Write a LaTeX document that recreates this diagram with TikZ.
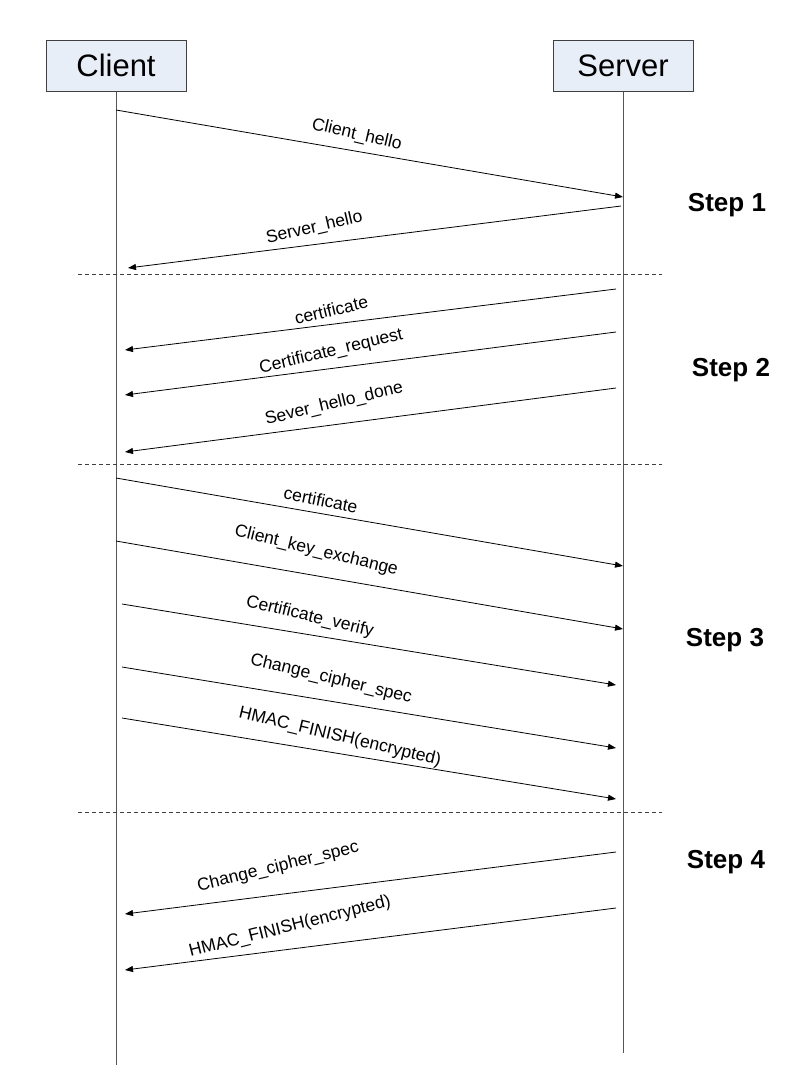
\documentclass[tikz,border=0pt]{standalone}
\usepackage{fontspec}
\setmainfont{Liberation Sans}
\usetikzlibrary{arrows.meta}
\definecolor{boxfill}{HTML}{E8EEF8}
\definecolor{boxline}{HTML}{404040}
\definecolor{lifeline}{HTML}{555555}
\tikzset{
  actor/.style={draw=boxline, line width=1pt, fill=boxfill, minimum width=140pt, minimum height=51pt,
    inner sep=0pt, font=\fontsize{31}{36}\selectfont},
  life/.style={draw=lifeline, line width=0.9pt},
  msg/.style={draw=black, line width=0.8pt, -{Triangle[length=8pt,width=6pt]}},
  lbl/.style={font=\fontsize{17.5}{20}\selectfont, inner sep=0pt},
  sep/.style={draw=black!75, line width=0.8pt, dash pattern=on 4pt off 3pt},
  steplbl/.style={font=\fontsize{26}{30}\selectfont\bfseries, inner sep=0pt}
}
\begin{document}
\begin{tikzpicture}[x=1pt,y=-1pt]
\useasboundingbox (0,0) rectangle (808,1084);
% actors
\node[actor] (client) at (116,65.5) {Client};
\node[actor] (server) at (623,65.5) {Server};
\coordinate (cb) at (116,1065);
\coordinate (sb) at (623,1053);
\draw[life] (client.south) -- (cb);
\draw[life] (server.south) -- (sb);
% separators
\coordinate (d1l) at (78,274); \coordinate (d1r) at (662,274);
\coordinate (d2l) at (78,464); \coordinate (d2r) at (662,464);
\coordinate (d3l) at (78,812); \coordinate (d3r) at (662,812);
\draw[sep] (d1l) -- (d1r);
\draw[sep] (d2l) -- (d2r);
\draw[sep] (d3l) -- (d3r);
% message end points
\coordinate (a1) at (116,110); \coordinate (b1) at (623,197);
\coordinate (a2) at (621,206); \coordinate (b2) at (128,268);
\coordinate (a3) at (616,289); \coordinate (b3) at (125,350);
\coordinate (a4) at (616,332); \coordinate (b4) at (125,395);
\coordinate (a5) at (616,388); \coordinate (b5) at (125,452);
\coordinate (a6) at (116,478); \coordinate (b6) at (623,566);
\coordinate (a7) at (116,541); \coordinate (b7) at (623,629);
\coordinate (a8) at (122,604); \coordinate (b8) at (616,685);
\coordinate (a9) at (122,667); \coordinate (b9) at (616,748);
\coordinate (a10) at (122,718); \coordinate (b10) at (616,799);
\coordinate (a11) at (616,852); \coordinate (b11) at (125,914);
\coordinate (a12) at (616,908); \coordinate (b12) at (125,970);
% step 1
\draw[msg] (a1) -- node[lbl, pos=0.475, yshift=16.4pt, rotate=-13] {Client\_hello} (b1);
\draw[msg] (a2) -- node[lbl, pos=0.622, yshift=16.6pt, rotate=13] {Server\_hello} (b2);
% step 2
\draw[msg] (a3) -- node[lbl, pos=0.58, yshift=14.4pt, rotate=13.5] {certificate} (b3);
\draw[msg] (a4) -- node[lbl, pos=0.58, yshift=16.6pt, rotate=13.5] {Certificate\_request} (b4);
\draw[msg] (a5) -- node[lbl, pos=0.574, yshift=20.8pt, rotate=13.5] {Sever\_hello\_done} (b5);
% step 3
\draw[msg] (a6) -- node[lbl, pos=0.404, yshift=13.6pt, rotate=-11.5] {certificate} (b6);
\draw[msg] (a7) -- node[lbl, pos=0.395, yshift=25pt, rotate=-13.8] {Client\_key\_exchange} (b7);
\draw[msg] (a8) -- node[lbl, pos=0.38, yshift=17.8pt, rotate=-13.5] {Certificate\_verify} (b8);
\draw[msg] (a9) -- node[lbl, pos=0.423, yshift=22.3pt, rotate=-13.5] {Change\_cipher\_spec} (b9);
\draw[msg] (a10) -- node[lbl, pos=0.441, yshift=16.7pt, rotate=-13.5] {HMAC\_FINISH(encrypted)} (b10);
% step 4
\draw[msg] (a11) -- node[lbl, pos=0.688, yshift=27.7pt, rotate=13.8] {Change\_cipher\_spec} (b11);
\draw[msg] (a12) -- node[lbl, pos=0.664, yshift=22pt, rotate=14.2] {HMAC\_FINISH(encrypted)} (b12);
% step labels
\node[steplbl] (s1) at (727,205) {Step 1};
\node[steplbl] (s2) at (731,370) {Step 2};
\node[steplbl] (s3) at (725,640) {Step 3};
\node[steplbl] (s4) at (726,862) {Step 4};
\end{tikzpicture}
\end{document}
